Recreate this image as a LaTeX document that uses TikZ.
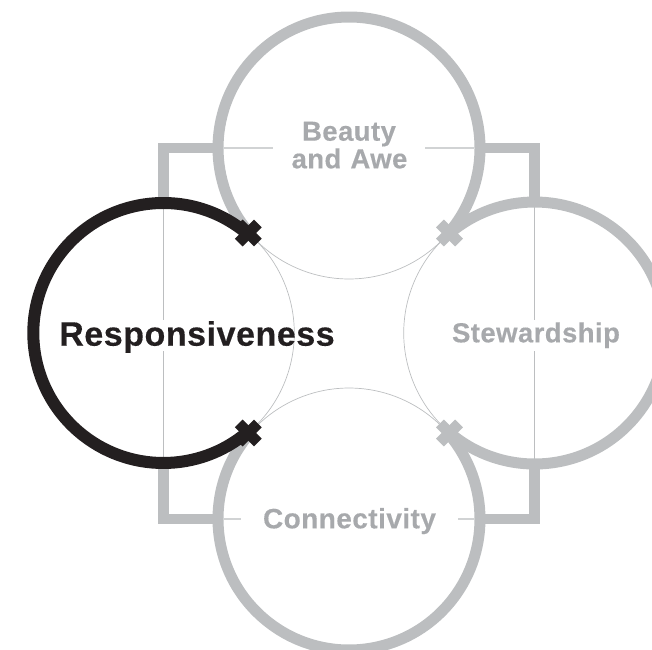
\documentclass[tikz,border=0pt]{standalone}
\usepackage{fontspec}
\setmainfont{Liberation Sans}
\newfontfamily\labfont[LetterSpace=1.6,FakeBold=0.35]{Liberation Sans Bold}
\definecolor{ringgray}{HTML}{BCBEC0}
\definecolor{labelgray}{HTML}{A7A9AC}
\definecolor{hairgray}{HTML}{D1D3D4}
\definecolor{inkblack}{HTML}{231F20}
\tikzset{
  ring/.style={line width=11pt,ringgray,line cap=butt},
  ringdark/.style={line width=12pt,inkblack,line cap=butt},
  corner/.style={line width=10.5pt,ringgray,line join=miter,line cap=butt},
  hairarc/.style={line width=0.7pt,ringgray},
  hairv/.style={line width=0.9pt,ringgray},
  hairh/.style={line width=1.1pt,hairgray},
  lab/.style={font=\labfont\fontsize{27.5}{28}\selectfont,text=labelgray,inner sep=0pt,anchor=base},
  labdark/.style={font=\labfont\fontsize{34}{35}\selectfont,text=inkblack,inner sep=0pt,anchor=base}
}
\newcommand{\xcross}[2]{%
  \fill[#2,rotate around={45:(#1)}] ([xshift=-13.5pt,yshift=-5.5pt]#1) rectangle ([xshift=13.5pt,yshift=5.5pt]#1);
  \fill[#2,rotate around={45:(#1)}] ([xshift=-5.5pt,yshift=-13.5pt]#1) rectangle ([xshift=5.5pt,yshift=13.5pt]#1);}
\begin{document}
\begin{tikzpicture}[x=1pt,y=1pt]
\useasboundingbox (0,0) rectangle (652,649);
\clip (0,0) rectangle (652,649);
% centres
\coordinate (cT) at (349,501);
\coordinate (cL) at (163.3,316);
\coordinate (cR) at (534.7,316);
\coordinate (cB) at (349,130);
% crossing points
\coordinate (xTL) at (248.3,416);
\coordinate (xTR) at (449.5,416);
\coordinate (xBL) at (248.3,216);
\coordinate (xBR) at (449.5,216);
% square corners
\coordinate (sTLa) at (163.3,446);
\coordinate (sTL) at (163.3,501);
\coordinate (sTLb) at (222,501);
\coordinate (sTRa) at (476,501);
\coordinate (sTR) at (534.3,501);
\coordinate (sTRb) at (534.3,446);
\coordinate (sBLa) at (163.3,186);
\coordinate (sBL) at (163.3,130);
\coordinate (sBLb) at (222,130);
\coordinate (sBRa) at (476,130);
\coordinate (sBR) at (534.3,130);
\coordinate (sBRb) at (534.3,186);
% hairline ends
\coordinate (hTa) at (224,501);
\coordinate (hTb) at (273,501);
\coordinate (hTc) at (425,501);
\coordinate (hTd) at (474,501);
\coordinate (hBa) at (224,130);
\coordinate (hBb) at (241,130);
\coordinate (hBc) at (458,130);
\coordinate (hBd) at (474,130);
\coordinate (vLa) at (163.3,442);
\coordinate (vLb) at (163.3,329);
\coordinate (vLc) at (163.3,298);
\coordinate (vLd) at (163.3,190);
\coordinate (vRa) at (534.7,442);
\coordinate (vRb) at (534.7,329);
\coordinate (vRc) at (534.7,298);
\coordinate (vRd) at (534.7,190);
% square corners
\draw[corner] (sTLa) -- (sTL) -- (sTLb);
\draw[corner] (sTRa) -- (sTR) -- (sTRb);
\draw[corner] (sBLa) -- (sBL) -- (sBLb);
\draw[corner] (sBRa) -- (sBR) -- (sBRb);
% hairlines
\draw[hairh] (hTa) -- (hTb);
\draw[hairh] (hTc) -- (hTd);
\draw[hairh] (hBa) -- (hBb);
\draw[hairh] (hBc) -- (hBd);
\draw[hairv] (vLa) -- (vLb);
\draw[hairv] (vLc) -- (vLd);
\draw[hairv] (vRa) -- (vRb);
\draw[hairv] (vRc) -- (vRd);
% thin inner arcs
\draw[hairarc] ([shift={(-49.6:131)}]cL) arc (-49.6:49.6:131);
\draw[hairarc] ([shift={(130.4:131)}]cR) arc (130.4:229.6:131);
\draw[hairarc] ([shift={(220.4:131)}]cT) arc (220.4:319.6:131);
\draw[hairarc] ([shift={(40.4:131)}]cB) arc (40.4:139.6:131);
% thick arcs
\draw[ring] ([shift={(-39.6:131)}]cT) arc (-39.6:219.6:131);
\draw[ring] ([shift={(-130.4:131)}]cR) arc (-130.4:130.4:131);
\draw[ring] ([shift={(139.6:131)}]cB) arc (139.6:400.4:131);
\xcross{xTR}{ringgray}
\xcross{xBR}{ringgray}
\draw[ringdark] ([shift={(49.6:130)}]cL) arc (49.6:310.4:130);
\xcross{xTL}{inkblack}
\xcross{xBL}{inkblack}
% labels
\node[lab] (beauty) at (349,508.3) {Beauty};
\node[lab] (awe) at (349.5,480.7) {and\hspace{1pt} Awe};
\node[labdark] (resp) at (197,303.3) {Responsiveness};
\node[lab] (stew) at (536,306.7) {Stewardship};
\node[lab,font=\labfont\fontsize{28}{29}\selectfont] (conn) at (349.5,120.7) {Connectivity};
\end{tikzpicture}
\end{document}
